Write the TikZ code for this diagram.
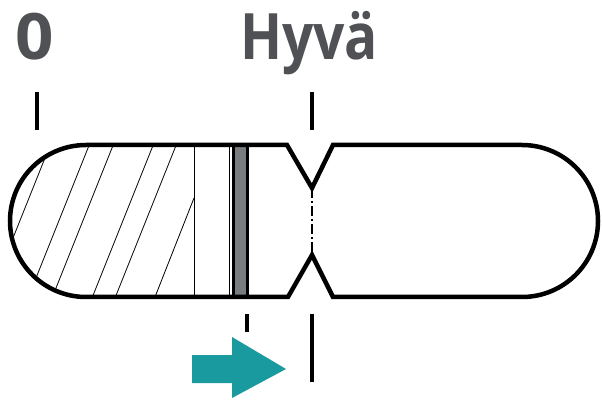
\documentclass[tikz,border=0pt]{standalone}
\usepackage{fontspec}
\setmainfont{Open Sans}
\definecolor{txtgray}{RGB}{79,81,84}
\definecolor{teal}{RGB}{24,154,158}
\definecolor{bargray}{RGB}{122,125,128}
\begin{document}
\begin{tikzpicture}[x=1pt,y=1pt,
  outline/.style={line width=4.5pt,line join=miter},
  hatch/.style={line width=0.8pt},
  tick/.style={line width=4pt},
  label/.style={inner sep=0pt,text=txtgray,font=\fontsize{64}{64}\selectfont\bfseries}]
\useasboundingbox (0,0) rectangle (602,399);
% labels
\node[label,anchor=base] (zero) at (35,339) {\scalebox{1.05}[1]{0}};
\node[label,anchor=base] (good) at (309,339) {\scalebox{0.86}[1]{Hyvä}};
% ticks
\coordinate (t1a) at (37,307); \coordinate (t1b) at (37,269);
\coordinate (t2a) at (312,307); \coordinate (t2b) at (312,269);
\coordinate (b1a) at (247,85); \coordinate (b1b) at (247,67);
\coordinate (b2a) at (312,85); \coordinate (b2b) at (312,17);
\draw[tick] (t1a) -- (t1b);
\draw[tick] (t2a) -- (t2b);
\draw[tick] (b1a) -- (b1b);
\draw[tick] (b2a) -- (b2b);
% hatching
\begin{scope}
\clip (86,254) -- (194,254) -- (194,102) -- (86,102) arc (270:90:76) -- cycle;
\draw[hatch] (50.2,254) -- (-10.6,102);
\draw[hatch] (89.2,254) -- (28.4,102);
\draw[hatch] (113.2,254) -- (52.4,102);
\draw[hatch] (153.2,254) -- (92.4,102);
\draw[hatch] (176.2,254) -- (115.4,102);
\draw[hatch] (194,201) -- (155,102);
\end{scope}
\draw[hatch] (194,254) -- (194,102);
\draw[line width=1pt] (229.5,254) -- (229.5,102);
\fill[black] (232,254) rectangle (248.5,102);
\fill[bargray] (235,254) rectangle (245.5,102);
% dash-dot line in the notch
\draw[line width=1.3pt,dash pattern=on 10pt off 3pt on 2pt off 3pt] (312,211) -- (312,144);
% outline
\draw[outline] (86,254) -- (287,254) -- (312,211) -- (333,254) -- (522,254)
  arc (90:-90:76) -- (333,102) -- (312,144) -- (288,102) -- (86,102)
  arc (270:90:76) -- cycle;
% arrow
\fill[teal] (192,44) -- (232,44) -- (232,62) -- (286,30) -- (232,1) -- (232,16) -- (192,16) -- cycle;
\end{tikzpicture}
\end{document}
